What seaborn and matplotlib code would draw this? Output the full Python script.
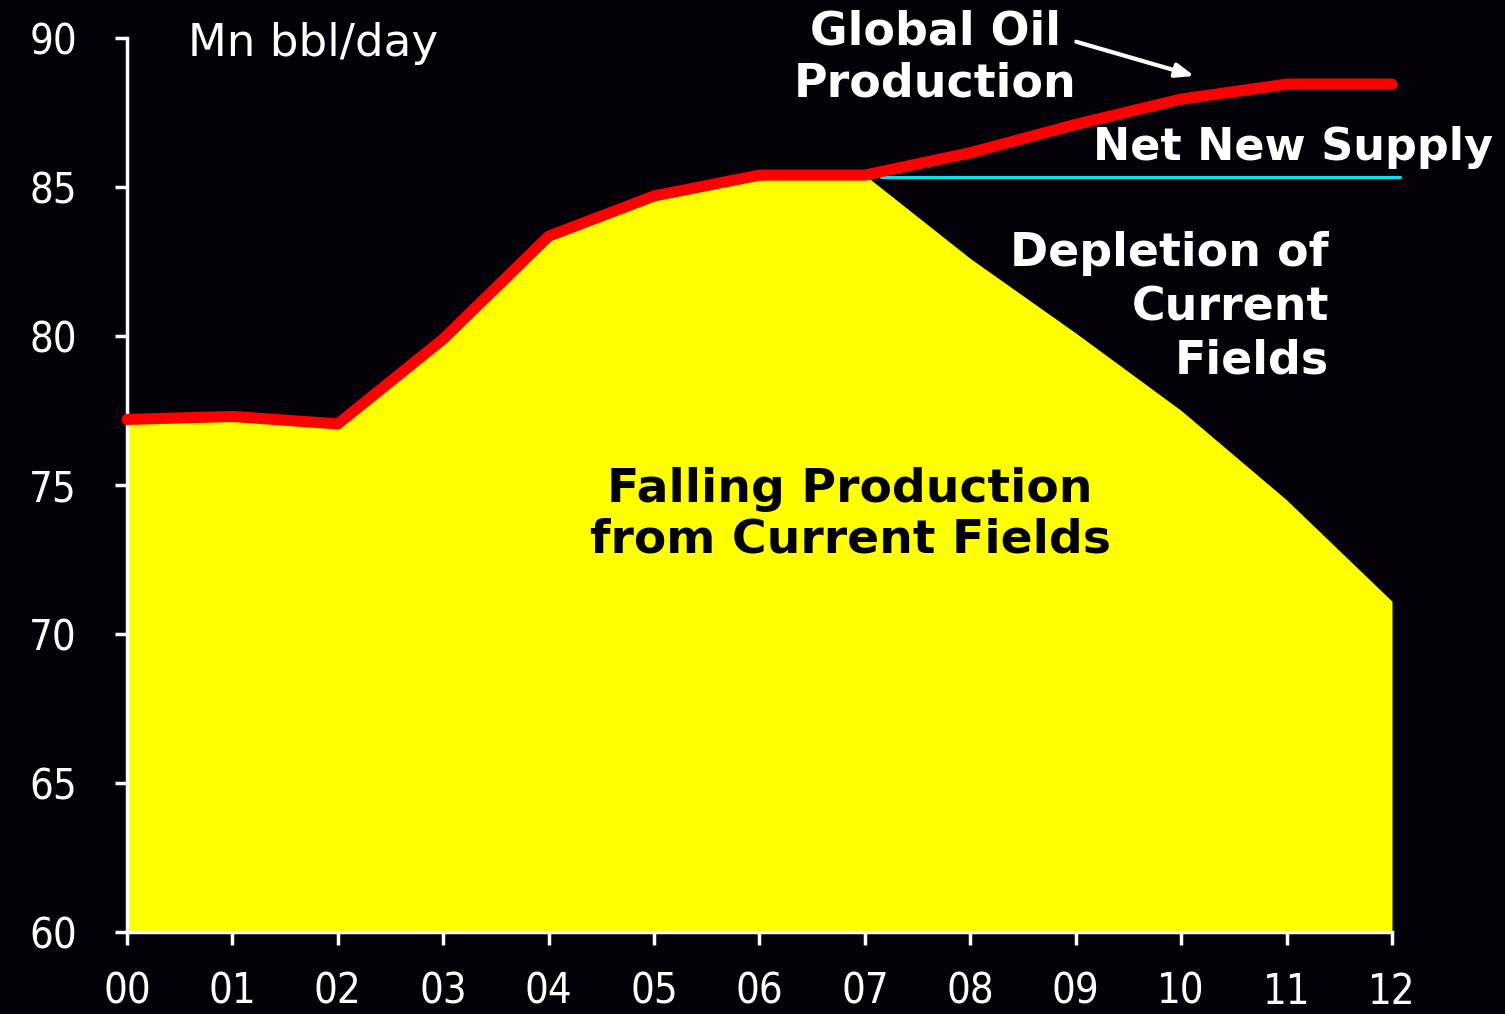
import matplotlib
matplotlib.use("Agg")
import matplotlib.pyplot as plt
import seaborn as sns
import pandas as pd

# ---- data ----
year_labels = ["00", "01", "02", "03", "04", "05", "06", "07", "08", "09", "10", "11", "12"]
global_production = [77.2, 77.3, 77.05, 79.9, 83.35, 84.7, 85.4, 85.4, 86.15, 87.1, 87.95, 88.45, 88.45]
current_fields = [77.2, 77.3, 77.05, 79.9, 83.35, 84.7, 85.4, 85.4, 82.6, 80.1, 77.5, 74.5, 71.1]
net_supply_x = [7.15, 12.08]
net_supply_y = [85.35, 85.35]
y_ticks = [60, 65, 70, 75, 80, 85, 90]

BG = "#040208"

sns.set_theme(style="dark")
plt.rcParams["font.family"] = ["DejaVu Sans"]

df = pd.DataFrame({"x": list(range(len(year_labels))),
                   "prod": global_production,
                   "cur": current_fields})

fig = plt.figure(figsize=(15.05, 10.14), dpi=100, facecolor=BG)
ax = fig.add_axes([127 / 1505, 1 - 932 / 1014, (1392 - 127) / 1505, (932 - 38) / 1014])
ax.set_facecolor(BG)

ax.fill_between(df["x"], 60, df["cur"], color="#FFFF00", linewidth=0, zorder=1)
sns.lineplot(data=df, x="x", y="prod", color="#FF0000", linewidth=8, ax=ax,
             zorder=3, clip_on=False)
for l in ax.get_lines():
    l.set_solid_capstyle("round")
    l.set_solid_joinstyle("round")
ax.plot(net_supply_x, net_supply_y, color="#00E5EE", linewidth=2.2, zorder=2,
        clip_on=False)

ax.set_xlim(0, 12)
ax.set_ylim(60, 90)
ax.set_xticks(range(len(year_labels)))
ax.set_xticklabels(year_labels)
ax.set_yticks(y_ticks)
ax.set_xlabel("")
ax.set_ylabel("")
ax.grid(False)

for side in ["top", "right"]:
    ax.spines[side].set_visible(False)
for side in ["left", "bottom"]:
    ax.spines[side].set_visible(True)
    ax.spines[side].set_color("white")
    ax.spines[side].set_linewidth(2.5)

ax.tick_params(axis="both", colors="white", direction="out", length=9, width=2.5,
               labelsize=30, left=True, bottom=True)
ax.tick_params(axis="x", pad=19)
ax.tick_params(axis="y", pad=27)
for lab in ax.get_xticklabels() + ax.get_yticklabels():
    lab.set_fontstretch("condensed")
    lab.set_color("white")

tkw = dict(color="white", transform=ax.transData, clip_on=False)
ax.text(0.58, 89.8, "Mn bbl/day", fontsize=32.5, ha="left", va="center", **tkw)
ax.text(7.67, 89.33, "Global Oil\nProduction", fontsize=33, fontweight="bold",
        ha="center", va="center", linespacing=1.18, **tkw)
ax.annotate("", xy=(10.15, 88.7), xytext=(8.98, 89.9),
            arrowprops=dict(arrowstyle="-|>,head_length=0.9,head_width=0.35",
                            color="white", lw=3), annotation_clip=False)
ax.text(9.16, 86.31, "Net New Supply", fontsize=32, fontweight="bold",
        ha="left", va="center", **tkw)
ax.text(11.4, 80.95, "Depletion of\nCurrent\nFields", fontsize=33, fontweight="bold",
        ha="right", va="center", linespacing=1.25, **tkw)
ax.text(6.86, 74.0, "Falling Production\nfrom Current Fields", fontsize=34,
        fontweight="bold", ha="center", va="center", linespacing=1.15,
        color="black", transform=ax.transData)

fig.savefig("out.png", dpi=100, facecolor=BG)
